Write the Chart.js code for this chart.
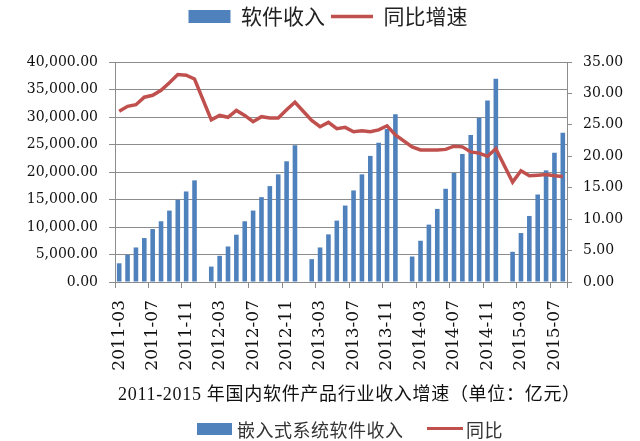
<!DOCTYPE html>
<html>
<head>
<meta charset="utf-8">
<script src="https://cdn.jsdelivr.net/npm/chart.js@4.4.1/dist/chart.umd.min.js"></script>
<style>
  html, body { margin: 0; padding: 0; background: #fff; }
  #wrap { position: relative; width: 640px; height: 441px; }
  #caption { position: absolute; left: 118px; top: 385px; font: 18px "Liberation Serif", "Noto Sans CJK SC"; letter-spacing: 0.7px; color: #111; white-space: nowrap; line-height: 1; }
  .leg { position: absolute; font: 18px "Noto Sans CJK SC"; letter-spacing: 0.5px; color: #333; white-space: nowrap; line-height: 1; }
  .sw { position: absolute; }
</style>
</head>
<body>
<div id="wrap">
  <canvas id="chartRevenu"></canvas>
  <div id="caption">2011-2015 年国内软件产品行业收入增速（单位：亿元）</div>
  <div class="sw" style="left:197px;top:423px;width:35px;height:12px;background:#4F81BD"></div>
  <div class="leg" style="left:237px;top:420px">嵌入式系统软件收入</div>
  <div class="sw" style="left:427px;top:427px;width:36px;height:3px;background:#C0504D"></div>
  <div class="leg" style="left:466px;top:420px">同比</div>
</div>
<script>
// ===== DONNÉES =====
const mois = [
  '2011-03','2011-04','2011-05','2011-06','2011-07','2011-08','2011-09','2011-10','2011-11','2011-12',
  '2012-01','2012-02','2012-03','2012-04','2012-05','2012-06','2012-07','2012-08','2012-09','2012-10','2012-11','2012-12',
  '2013-01','2013-02','2013-03','2013-04','2013-05','2013-06','2013-07','2013-08','2013-09','2013-10','2013-11','2013-12',
  '2014-01','2014-02','2014-03','2014-04','2014-05','2014-06','2014-07','2014-08','2014-09','2014-10','2014-11','2014-12',
  '2015-01','2015-02','2015-03','2015-04','2015-05','2015-06','2015-07','2015-08'
]
// 软件收入 (亿元), cumul annuel, pas de donnée en janvier
const revenu = [
  3400, 4940, 6280, 7990, 9630, 11040, 12990, 14940, 16460, 18480,
  null, 2800, 4760, 6460, 8600, 11040, 12990, 15430, 17440, 19570, 21950, 24880,
  null, 4150, 6280, 8660, 11160, 13900, 16650, 19570, 22930, 25300, 27800, 30490,
  null, 4630, 7500, 10430, 13290, 16950, 19820, 23290, 26710, 29880, 32990, 36950,
  null, 5490, 8900, 12010, 15910, 20300, 23480, 27130
]
// 同比增速 (%)
const croissance = [
  27.15, 27.95, 28.2, 29.4, 29.7, 30.5, 31.7, 33.0, 32.9, 32.3,
  null, 25.8, 26.5, 26.2, 27.3, 26.5, 25.5, 26.3, 26.1, 26.1, 27.4, 28.6,
  null, 25.7, 24.7, 25.4, 24.4, 24.6, 23.9, 24.05, 23.9, 24.2, 24.85, 23.4,
  null, 21.5, 21.0, 21.0, 21.0, 21.1, 21.6, 21.5, 20.7, 20.5, 20.0, 21.2,
  null, 15.9, 17.7, 16.9, 17.0, 17.1, 16.9, 16.8
]
const bleu = '#4F81BD'
const rouge = '#C0504D'
const gris = '#8c8c8c'
const policeAxe = 'DejaVu Serif'

// ===== GRAPHIQUE =====
const ctx = document.getElementById('chartRevenu')
new Chart(ctx, {
  data: {
    labels: mois,
    datasets: [{
      type: 'bar',
      label: '软件收入',
      data: revenu,
      backgroundColor: bleu,
      borderWidth: 0,
      barPercentage: 0.55,
      categoryPercentage: 1,
      yAxisID: 'y',
      order: 1,
      pointStyle: 'rect'
    }, {
      type: 'line',
      label: '同比增速',
      data: croissance,
      borderColor: rouge,
      backgroundColor: rouge,
      borderWidth: 3.5,
      pointRadius: 0,
      tension: 0,
      spanGaps: true,
      yAxisID: 'y1',
      order: 0,
      pointStyle: 'line'
    }]
  },
  options: {
    responsive: true,
    maintainAspectRatio: false,
    animation: false,
    layout: { padding: { left: 16, right: 0, top: 0, bottom: 69 } },
    plugins: {
      tooltip: { enabled: false },
      legend: {
        position: 'top',
        weight: 3000,
        labels: {
          usePointStyle: true,
          pointStyleWidth: 42,
          boxHeight: 13,
          padding: 6,
          color: '#222',
          font: { family: 'Noto Sans CJK SC', size: 21 },
          sort: (a, b) => a.datasetIndex - b.datasetIndex
        }
      },
      // espace vide entre la légende et le graphique
      subtitle: {
        display: true,
        text: '',
        font: { size: 10, lineHeight: 1 },
        padding: { top: 0, bottom: 15 }
      }
    },
    scales: {
      x: {
        offset: true,
        grid: {
          display: true,
          drawOnChartArea: false,
          offset: true,
          tickLength: 6,
          color: c => (c.index === undefined || c.index % 4 === 0) ? gris : 'rgba(0,0,0,0)'
        },
        border: { color: gris },
        ticks: {
          autoSkip: false,
          minRotation: 90,
          maxRotation: 90,
          padding: 12,
          color: '#111',
          font: { family: policeAxe, size: 17 },
          callback: (v, i) => i % 4 === 0 ? mois[i] : ''
        },
        afterFit: s => { s.height = 90; s.paddingLeft = 0; s.paddingRight = 0 }
      },
      y: {
        position: 'left',
        min: 0,
        max: 40000,
        grid: { color: gris, tickLength: 6 },
        border: { color: gris },
        ticks: {
          stepSize: 5000,
          padding: 11,
          color: '#111',
          font: { family: policeAxe, size: 14 },
          callback: v => v.toLocaleString('en-US', { minimumFractionDigits: 2, maximumFractionDigits: 2 })
        },
        afterFit: s => { s.width = 99 }
      },
      y1: {
        position: 'right',
        min: 0,
        max: 35,
        grid: { drawOnChartArea: false, color: gris, tickLength: 5 },
        border: { color: gris },
        ticks: {
          stepSize: 5,
          padding: 11,
          color: '#111',
          font: { family: policeAxe, size: 14 },
          callback: v => v.toFixed(2)
        },
        afterFit: s => { s.width = 73 }
      }
    }
  }
})
</script>
</body>
</html>
